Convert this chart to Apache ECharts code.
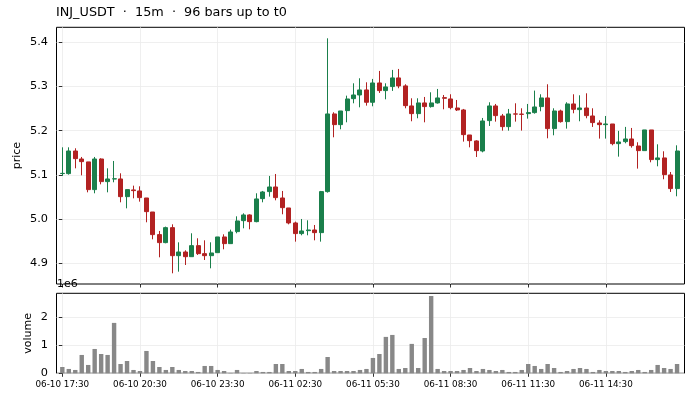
<!DOCTYPE html>
<html>
<head>
<meta charset="utf-8">
<script src="https://cdn.jsdelivr.net/npm/echarts@6/dist/echarts.min.js"></script>
<style>
html,body{margin:0;padding:0;background:#fff;}
#chart{width:692px;height:400px;}
</style>
</head>
<body>
<div id="chart"></div>
<script>
// ---- data ----
const titleText = 'INJ_USDT  \u00b7  15m  \u00b7  96 bars up to t0';
const opens = [5.103,5.1029,5.1541,5.136,5.1294,5.0667,5.136,5.0848,5.0908,5.0908,
  5.0508,5.066,5.0637,5.0478,5.0161,4.9649,4.9468,4.9807,4.9173,4.9256,
  4.915,4.94,4.9219,4.9173,4.9241,4.9596,4.9445,4.9717,4.9965,5.0094,
  4.9943,5.0463,5.0622,5.0727,5.0478,5.0252,4.9913,4.9672,4.9739,4.9754,
  4.9694,5.0622,5.2379,5.2137,5.2454,5.2725,5.2808,5.2922,5.2643,5.308,
  5.2907,5.2998,5.3194,5.3013,5.256,5.2386,5.2628,5.2545,5.2628,5.2748,
  5.2718,5.2514,5.2469,5.1903,5.1768,5.1541,5.2228,5.256,5.2333,5.2092,
  5.238,5.2375,5.2386,5.2409,5.2545,5.2741,5.2047,5.2446,5.2205,5.2605,
  5.2477,5.2514,5.2333,5.2175,5.2137,5.2152,5.1707,5.1753,5.1813,5.1654,
  5.1549,5.2017,5.1346,5.1384,5.0999,5.069];
const closes = [5.1035,5.1541,5.1368,5.130,5.0667,5.136,5.0848,5.0908,5.0912,5.0508,
  5.0667,5.0644,5.0486,5.0169,4.9649,4.9468,4.9807,4.9173,4.9256,4.915,
  4.94,4.9219,4.9173,4.9234,4.9596,4.9445,4.9709,4.9958,5.0094,4.9943,
  5.0456,5.0614,5.0727,5.0486,5.0259,4.9913,4.9672,4.9732,4.9754,4.9694,
  5.0622,5.2379,5.2137,5.2446,5.2718,5.2808,5.2922,5.2643,5.308,5.2907,
  5.299,5.3194,5.3013,5.2567,5.2386,5.2628,5.2545,5.2628,5.2741,5.2733,
  5.2522,5.2469,5.1911,5.1775,5.1549,5.222,5.256,5.2341,5.2092,5.2379,
  5.2375,5.237,5.2409,5.2537,5.2741,5.2047,5.2446,5.2205,5.2605,5.2484,
  5.2514,5.2341,5.2183,5.2137,5.2152,5.1707,5.1745,5.1813,5.1662,5.1549,
  5.2017,5.1346,5.1384,5.1006,5.069,5.1541];
const lows = [5.0976,5.1006,5.1149,5.099,5.0606,5.0584,5.0787,5.0606,5.0833,5.038,
  5.0244,5.047,5.0395,4.9928,4.9543,4.9136,4.9453,4.8774,4.8811,4.8962,
  4.915,4.9189,4.9075,4.8887,4.9241,4.9317,4.9445,4.9679,4.9792,4.9769,
  4.9928,5.038,5.0508,5.0425,5.0109,4.9882,4.949,4.9634,4.9634,4.952,
  4.949,5.0599,5.1851,5.2032,5.219,5.262,5.2529,5.2567,5.2552,5.2854,
  5.271,5.29,5.296,5.2507,5.2213,5.2281,5.219,5.2522,5.2613,5.2484,
  5.2484,5.2446,5.1753,5.1624,5.1405,5.1511,5.2107,5.2205,5.2001,5.2001,
  5.2205,5.2002,5.2273,5.2386,5.2439,5.1828,5.1896,5.2183,5.2047,5.2394,
  5.2213,5.2281,5.2085,5.1821,5.1821,5.167,5.1413,5.1715,5.1617,5.1142,
  5.1549,5.1285,5.1195,5.0901,5.0614,5.0516];
const highs = [5.1624,5.1624,5.1602,5.1406,5.1294,5.1406,5.1375,5.1149,5.1315,5.1036,
  5.0667,5.0757,5.0742,5.0478,5.0161,4.9732,4.983,4.9882,4.9475,4.9294,
  4.9679,4.9566,4.952,4.9475,4.9596,4.9656,4.9762,5.0063,5.0131,5.0109,
  5.0584,5.0637,5.0976,5.1021,5.0637,5.0252,4.9943,5.0003,4.9973,4.9867,
  5.0637,5.409,5.2417,5.2446,5.2793,5.3072,5.3186,5.3095,5.3171,5.3352,
  5.3072,5.3375,5.3397,5.305,5.2733,5.2733,5.2763,5.2869,5.2944,5.2808,
  5.2824,5.2695,5.2492,5.1903,5.1783,5.2288,5.2643,5.2605,5.2379,5.2492,
  5.262,5.2507,5.2605,5.2907,5.2824,5.305,5.2507,5.2476,5.2643,5.2824,
  5.2801,5.2846,5.2507,5.2235,5.2333,5.2152,5.1996,5.2086,5.2062,5.1738,
  5.2017,5.2017,5.1692,5.1534,5.1066,5.1669];
const volumes = [0.226,0.155,0.119,0.655,0.298,0.869,0.69,0.655,1.80,0.333,
  0.44,0.119,0.083,0.798,0.44,0.226,0.119,0.226,0.119,0.083,
  0.083,0.048,0.262,0.262,0.119,0.083,0.012,0.119,0.012,0.012,
  0.083,0.048,0.048,0.333,0.333,0.083,0.083,0.155,0.048,0.048,
  0.155,0.583,0.083,0.083,0.083,0.083,0.119,0.155,0.548,0.69,
  1.30,1.37,0.155,0.19,1.05,0.19,1.26,2.76,0.155,0.083,
  0.083,0.083,0.119,0.19,0.083,0.155,0.119,0.083,0.119,0.048,
  0.048,0.119,0.333,0.262,0.155,0.333,0.19,0.048,0.083,0.155,
  0.19,0.155,0.048,0.119,0.083,0.083,0.083,0.048,0.083,0.119,
  0.048,0.119,0.298,0.19,0.155,0.333].map(v => v * 1e6);
const xTickIndex = [0,12,24,36,48,60,72,84];
const xTickLabels = ['06-10 17:30','06-10 20:30','06-10 23:30','06-11 02:30',
  '06-11 05:30','06-11 08:30','06-11 11:30','06-11 14:30'];
const priceTicks = [4.9,5.0,5.1,5.2,5.3,5.4];
const volumeTicks = [0,1e6,2e6];

// ---- build series data ----
const candleData = opens.map((o, i) => [i, o, closes[i], lows[i], highs[i]]);
const volumeData = volumes.map((v, i) => [i, v]);

const UP = '#1a7f4b', DOWN = '#b22222';
const FONT = 'DejaVu Sans';
const gridLine = {show: true, lineStyle: {color: '#ebebeb', width: 0.8}};
const tick = {show: true, length: 3.5, lineStyle: {color: '#000', width: 0.8}};

const chart = echarts.init(document.getElementById('chart'), null, {renderer: 'canvas'});
chart.setOption({
  animation: false,
  backgroundColor: '#fff',
  textStyle: {fontFamily: FONT},
  title: {
    text: titleText, left: 56, top: 6, padding: 0,
    textStyle: {fontSize: 12.8, fontWeight: 'normal', color: '#000', fontFamily: FONT}
  },
  grid: [
    {left: 56.5, right: 7.5, top: 27.3, height: 256.7, show: true, borderColor: '#000', borderWidth: 1, backgroundColor: 'transparent'},
    {left: 56.5, right: 7.5, top: 293.3, height: 80, show: true, borderColor: '#000', borderWidth: 1, backgroundColor: 'transparent'}
  ],
  xAxis: [
    {type: 'value', gridIndex: 0, min: -0.9, max: 96.15,
     axisLine: {show: false},
     axisTick: Object.assign({customValues: xTickIndex}, tick),
     axisLabel: {show: false, customValues: xTickIndex},
     splitLine: gridLine},
    {type: 'value', gridIndex: 1, min: -0.9, max: 96.15,
     axisLine: {show: false},
     axisTick: Object.assign({customValues: xTickIndex}, tick),
     axisLabel: {show: true, customValues: xTickIndex, fontSize: 8.8, color: '#000', fontFamily: FONT, margin: 7,
       formatter: v => xTickLabels[xTickIndex.indexOf(Math.round(v))] || ''},
     splitLine: gridLine}
  ],
  yAxis: [
    {type: 'value', gridIndex: 0, min: 4.8532, max: 5.4339, scale: true,
     name: 'price', nameLocation: 'middle', nameGap: 34, nameMoveOverlap: false,
     nameTextStyle: {fontSize: 11, color: '#000', fontFamily: FONT},
     axisLine: {show: false},
     axisTick: Object.assign({customValues: priceTicks}, tick),
     axisLabel: {customValues: priceTicks, fontSize: 11.3, color: '#000', fontFamily: FONT, margin: 8.5,
       formatter: v => v.toFixed(1)},
     splitLine: gridLine},
    {type: 'value', gridIndex: 1, min: 0, max: 2.857e6,
     name: 'volume', nameLocation: 'middle', nameGap: 23, nameMoveOverlap: false,
     nameTextStyle: {fontSize: 11, color: '#000', fontFamily: FONT},
     axisLine: {show: false},
     axisTick: Object.assign({customValues: volumeTicks}, tick),
     axisLabel: {customValues: volumeTicks, fontSize: 11.3, color: '#000', fontFamily: FONT, margin: 8.5,
       formatter: v => String(Math.round(v / 1e6))},
     splitLine: gridLine}
  ],
  graphic: [
    {type: 'text', left: 57, top: 279, z: 100,
     style: {text: '1e6', fontSize: 11, fill: '#000', fontFamily: FONT}}
  ],
  series: [
    {type: 'candlestick', xAxisIndex: 0, yAxisIndex: 0, data: candleData,
     encode: {x: 0, y: [1, 2, 3, 4]},
     barWidth: 4.5,
     itemStyle: {color: UP, color0: DOWN, borderColor: UP, borderColor0: DOWN, borderWidth: 1}},
    {type: 'bar', xAxisIndex: 1, yAxisIndex: 1, data: volumeData,
     encode: {x: 0, y: 1},
     barWidth: 4.4, itemStyle: {color: '#888888'}}
  ]
});
</script>
</body>
</html>
